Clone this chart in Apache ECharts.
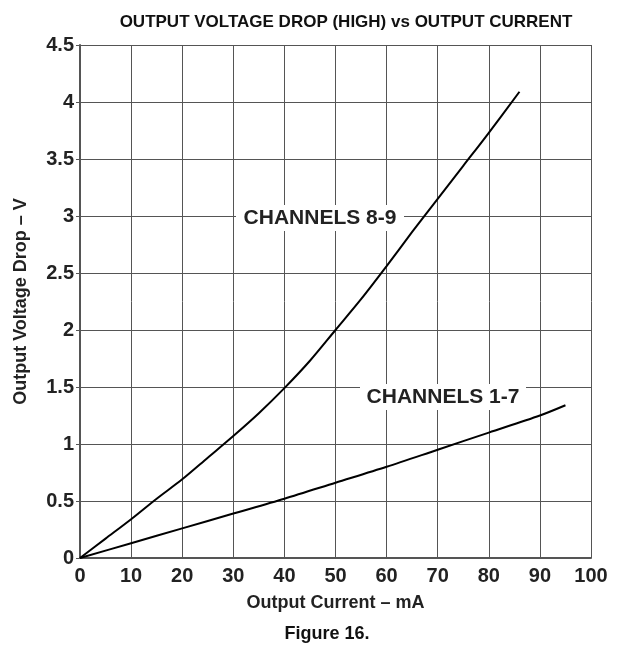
<!DOCTYPE html>
<html>
<head>
    <meta charset="utf-8">
    <title>Output Voltage Drop</title>
    <script src="https://cdn.jsdelivr.net/npm/echarts@6/dist/echarts.min.js"></script>
    <style>
        body { margin: 0; background: #fff; }
    </style>
</head>
<body>
<div id="main" style="width: 642px;height:650px;"></div>
<script type="text/javascript">
    // values (mA, V)
    var currentMA = [0, 5, 10, 15, 20, 25, 30, 35, 40, 45, 50, 55, 60, 65, 70, 75, 80, 86];
    var ch89Volts = [0, 0.17, 0.34, 0.52, 0.69, 0.88, 1.07, 1.27, 1.49, 1.73, 2.0, 2.27, 2.56, 2.86, 3.15, 3.44, 3.73, 4.09];

    var currentMA17 = [0, 10, 20, 30, 40, 50, 60, 70, 80, 90, 95];
    var ch17Volts = [0, 0.13, 0.26, 0.39, 0.52, 0.66, 0.80, 0.95, 1.10, 1.25, 1.34];

    var labels = ['CHANNELS 8-9', 'CHANNELS 1-7'];

    function pairs(xs, ys) {
        return xs.map(function (x, i) { return [x, ys[i]]; });
    }

    var font = '"Liberation Sans", Arial, sans-serif';
    var myChart = echarts.init(document.getElementById('main'));

    myChart.setOption({
        animation: false,
        backgroundColor: '#fff',
        title: {
            text: 'OUTPUT VOLTAGE DROP (HIGH) vs OUTPUT CURRENT',
            left: 341,
            textAlign: 'center',
            top: 9,
            textStyle: { fontFamily: font, fontSize: 17, fontWeight: 'bold', color: '#111' }
        },
        grid: { left: 80, right: 51, top: 45, bottom: 92 },
        xAxis: {
            type: 'value',
            min: 0, max: 100, interval: 10,
            name: 'Output Current \u2013 mA',
            nameLocation: 'middle',
            nameGap: 36,
            nameTextStyle: { fontFamily: font, fontSize: 18, fontWeight: 'bold', color: '#222' },
            axisLine: { lineStyle: { color: '#555', width: 2 } },
            axisTick: { show: false },
            axisLabel: { fontFamily: font, fontSize: 20, fontWeight: 'bold', color: '#222', margin: 8 },
            splitLine: { lineStyle: { color: '#555', width: 1 } }
        },
        yAxis: {
            type: 'value',
            min: 0, max: 4.5, interval: 0.5,
            name: 'Output Voltage Drop \u2013 V',
            nameLocation: 'middle',
            nameGap: 50,
            nameTextStyle: { fontFamily: font, fontSize: 18, fontWeight: 'bold', color: '#222' },
            axisLine: { lineStyle: { color: '#555', width: 2 } },
            axisTick: { show: true, length: 4, lineStyle: { color: '#555' } },
            axisLabel: { fontFamily: font, fontSize: 20, fontWeight: 'bold', color: '#222', margin: 6 },
            splitLine: { lineStyle: { color: '#555', width: 1 } }
        },
        series: [
            {
                name: labels[0],
                type: 'line',
                data: pairs(currentMA, ch89Volts),
                smooth: 0.3,
                showSymbol: false,
                lineStyle: { color: '#000', width: 2 }
            },
            {
                name: labels[1],
                type: 'line',
                data: pairs(currentMA17, ch17Volts),
                smooth: 0.3,
                showSymbol: false,
                lineStyle: { color: '#000', width: 2 }
            }
        ],
        graphic: [
            {
                type: 'rect', z: 100,
                shape: { x: 236, y: 205, width: 168, height: 26 },
                style: { fill: '#fff' }
            },
            {
                type: 'text', z: 101, x: 320, y: 218,
                style: {
                    text: labels[0], fill: '#222',
                    font: 'bold 21px ' + font,
                    align: 'center', verticalAlign: 'middle'
                }
            },
            {
                type: 'rect', z: 100,
                shape: { x: 360, y: 384, width: 166, height: 26 },
                style: { fill: '#fff' }
            },
            {
                type: 'text', z: 101, x: 443, y: 397,
                style: {
                    text: labels[1], fill: '#222',
                    font: 'bold 21px ' + font,
                    align: 'center', verticalAlign: 'middle'
                }
            },
            {
                type: 'text', z: 101, x: 327, y: 634,
                style: {
                    text: 'Figure 16.', fill: '#111',
                    font: 'bold 18px ' + font,
                    align: 'center', verticalAlign: 'middle'
                }
            }
        ]
    });
</script>
</body>
</html>
